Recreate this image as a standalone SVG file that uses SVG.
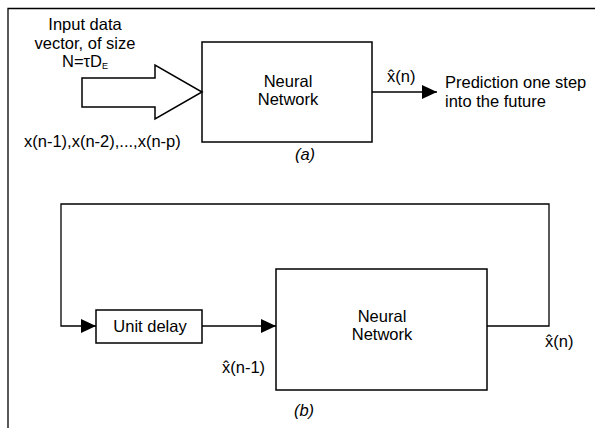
<svg xmlns="http://www.w3.org/2000/svg" width="600" height="428" viewBox="0 0 600 428">
<defs>
<marker id="ah" markerWidth="16" markerHeight="14" refX="15" refY="7" orient="auto" markerUnits="userSpaceOnUse">
<path d="M0,0 L15,7 L0,14 Z" fill="#000"/>
</marker>
</defs>
<style>
.t{font-family:"Liberation Sans",Arial,sans-serif;font-size:16.5px;fill:#000}
.i{font-style:italic}
.box{fill:none;stroke:#000;stroke-width:1.5}
.ln{fill:none;stroke:#000;stroke-width:1.3}
.m{text-anchor:middle}
</style>
<rect width="600" height="428" fill="#fff"/>
<g id="frame"><path class="ln" d="M8,428 V8.5 H595"/></g>

<g id="input-arrow">
<polygon class="box" points="82,78 155,78 155,65 202,92 155,119 155,107 82,107"/>
<text class="t m" x="85" y="30">Input data</text>
<text class="t m" x="85" y="48.5">vector, of size</text>
<text class="t" x="62" y="67">N=τD<tspan font-size="9" dy="2">E</tspan></text>
<text class="t" x="24" y="147">x(n-1),x(n-2),...,x(n-p)</text>
</g>

<g id="nn-a">
<rect class="box" x="202" y="42" width="170" height="100"/>
<text class="t m" x="288" y="87">Neural</text>
<text class="t m" x="288" y="105">Network</text>
</g>

<g id="output-a">
<text class="t" x="445" y="88">Prediction one step</text>
<text class="t" x="445" y="107">into the future</text>
<text class="t" x="387" y="82">x̂(n)</text>
</g>
<text class="t i m" x="305" y="160">(a)</text>

<g id="unit-delay">
<rect class="box" x="96" y="310" width="106" height="33"/>
<text class="t m" x="150" y="332">Unit delay</text>
</g>

<g id="nn-b">
<rect class="box" x="276" y="269" width="211" height="121"/>
<text class="t m" x="382" y="322">Neural</text>
<text class="t m" x="382" y="340">Network</text>
</g>

<g id="connectors">
<line class="ln" x1="372" y1="92" x2="437" y2="92" marker-end="url(#ah)"/>
<path class="ln" d="M487,326 H549 V204 H61 V326 H96" marker-end="url(#ah)"/>
<line class="ln" x1="202" y1="326" x2="276" y2="326" marker-end="url(#ah)"/>
</g>

<text class="t" x="545" y="347">x̂(n)</text>
<text class="t" x="222" y="373">x̂(n-1)</text>
<text class="t i m" x="304" y="416">(b)</text>
</svg>
